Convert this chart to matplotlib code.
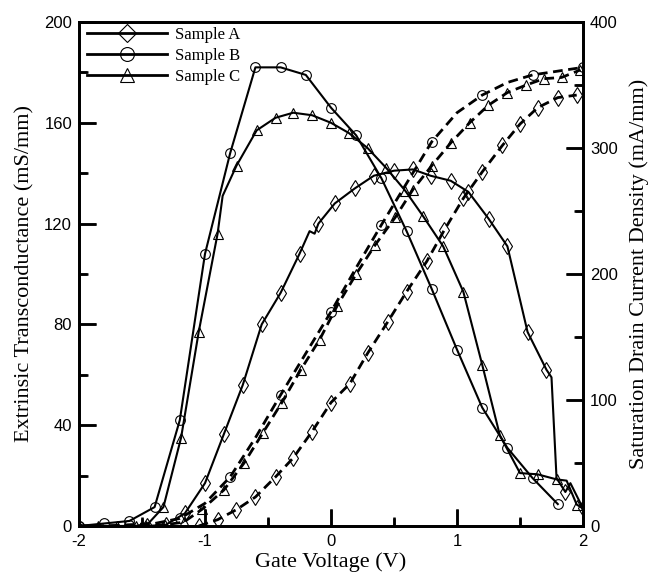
import numpy as np
import matplotlib
matplotlib.use('Agg')
import matplotlib.pyplot as plt
from matplotlib.lines import Line2D
from matplotlib.ticker import MultipleLocator

plt.rcParams['axes.unicode_minus'] = False

# Transconductance (mS/mm), eje izquierdo
vg_gm_a = [-2.0, -1.46, -1.31, -1.16, -1.0, -0.85, -0.7, -0.55, -0.4, -0.25, -0.17, -0.13, -0.1,
           0.03, 0.19, 0.34, 0.5, 0.65, 0.79, 0.95, 1.09, 1.25, 1.4, 1.56, 1.71, 1.75, 1.79, 1.86, 1.9, 2.0]
gm_a = [0, 0, 0.5, 5, 17, 36.5, 56, 80, 92.5, 108, 117, 116, 120,
        128, 134, 139, 141, 141.5, 139, 137, 132.6, 122, 111, 77, 62, 59, 19, 13.5, 17, 7]
mk_gm_a = [1, 2, 3, 4, 5, 6, 7, 8, 9, 12, 13, 14, 15, 16, 17, 18, 19, 20, 21, 22, 23, 24, 27, 29]

vg_gm_b = [-2.0, -1.8, -1.6, -1.4, -1.2, -1.0, -0.8, -0.6, -0.4, -0.2, 0.0,
           0.2, 0.4, 0.6, 0.8, 1.0, 1.2, 1.4, 1.6, 1.8]
gm_b = [0, 1, 2, 7.5, 42, 108, 148, 182, 182, 179, 166,
        155, 138, 117, 94, 70, 47, 31, 19, 8.7]

vg_gm_c = [-2.0, -1.85, -1.7, -1.55, -1.45, -1.33, -1.19, -1.05, -0.9, -0.86, -0.75, -0.59, -0.44,
           -0.3, -0.15, 0.0, 0.14, 0.29, 0.44, 0.59, 0.73, 0.89, 1.05, 1.2, 1.34, 1.5, 1.64,
           1.79, 1.87, 1.95, 2.0]
gm_c = [0, 0, 0, 0, 1, 7.5, 35, 77, 116, 131, 143, 157, 162,
        164, 163, 160, 156, 150, 142, 133, 123, 111, 93, 64, 36, 21, 20.5,
        18.5, 18, 8.5, 7]
mk_gm_c = [0, 1, 2, 3, 5, 6, 7, 8, 10, 11, 12, 13, 14, 15, 16, 17, 18, 19, 20, 21, 22, 23,
           24, 25, 26, 27, 29]

# Saturation drain current density (mA/mm), eje derecho
vg_id_a = [-1.05, -0.9, -0.75, -0.6, -0.44, -0.3, -0.15, 0.0, 0.15, 0.29, 0.45,
           0.6, 0.76, 0.9, 1.05, 1.2, 1.36, 1.5, 1.64, 1.8, 1.95]
id_a = [0, 5, 13, 23, 39, 54, 75, 98, 113, 137, 162,
        186, 210, 235, 260, 281, 302, 319, 332, 340, 342]

vg_id_b = [-2.0, -1.8, -1.6, -1.4, -1.2, -1.0, -0.8, -0.6, -0.4, -0.2, 0.0,
           0.2, 0.4, 0.6, 0.8, 1.0, 1.2, 1.4, 1.6, 1.8, 2.0]
id_b = [0, 0, 1, 2, 6, 18, 39, 70, 104, 137, 170,
        205, 239, 272, 305, 328, 342, 352, 358, 361, 364]

vg_id_c = [-2.0, -1.47, -1.32, -1.17, -1.02, -0.85, -0.69, -0.54, -0.39, -0.24, -0.09,
           0.05, 0.2, 0.35, 0.51, 0.65, 0.8, 0.95, 1.1, 1.25, 1.4, 1.55, 1.69, 1.83, 1.98]
id_c = [0, 0, 1, 3, 13.5, 28.6, 50, 74, 98, 124, 148,
        175, 200, 223, 245, 267, 286, 304, 320, 334, 344, 350, 355, 356, 362]

serif = ['Liberation Serif', 'DejaVu Serif']
sans = ['Liberation Sans', 'DejaVu Sans']

fig = plt.figure(figsize=(6.48, 5.78), dpi=100)
ax = fig.add_axes([79 / 648, 52 / 578, 504 / 648, 504 / 578])
ax2 = ax.twinx()

lw = 1.5
mkw = dict(markerfacecolor='none', markeredgecolor='black', markeredgewidth=0.8)
dash = (3.5, 2.0)

ax.plot(vg_gm_a, gm_a, '-', color='black', lw=lw, marker='d', ms=8, markevery=mk_gm_a, **mkw)
ax.plot(vg_gm_b, gm_b, '-', color='black', lw=lw, marker='o', ms=7, **mkw)
ax.plot(vg_gm_c, gm_c, '-', color='black', lw=lw, marker='^', ms=7, markevery=mk_gm_c, **mkw)

ax2.plot(vg_id_a, id_a, color='black', lw=2, dashes=dash, marker='d', ms=8, **mkw)
ax2.plot(vg_id_b, id_b, color='black', lw=2, dashes=dash, marker='o', ms=7, markevery=2, **mkw)
ax2.plot(vg_id_c, id_c, color='black', lw=2, dashes=dash, marker='^', ms=7, **mkw)

ax.set_xlim(-2, 2)
ax.set_ylim(0, 200)
ax2.set_ylim(0, 400)

ax.xaxis.set_major_locator(MultipleLocator(1))
ax.xaxis.set_minor_locator(MultipleLocator(0.5))
ax.yaxis.set_major_locator(MultipleLocator(40))
ax.yaxis.set_minor_locator(MultipleLocator(20))
ax2.yaxis.set_major_locator(MultipleLocator(100))
ax2.yaxis.set_minor_locator(MultipleLocator(50))

for a in (ax, ax2):
    for s in a.spines.values():
        s.set_linewidth(2)
ax.tick_params(axis='both', which='major', direction='in', length=12, width=1.8,
               labelsize=12, pad=5, bottom=True, left=True, top=False, right=False, color='black')
ax.tick_params(axis='both', which='minor', direction='in', length=6, width=1.8,
               bottom=True, left=True, top=False, right=False, color='black')
ax.tick_params(axis='x', pad=6)
ax2.tick_params(axis='y', which='major', direction='in', length=12, width=1.8,
                labelsize=12, pad=5, left=False, right=True, color='black')
ax2.tick_params(axis='y', which='minor', direction='in', length=6, width=1.8,
                left=False, right=True, color='black')

# marcas hacia dentro también trazadas a mano, solo dentro de los límites de los ejes
maj, mnr = 0.034, 0.017
tk = dict(color='black', lw=1.8, solid_capstyle='butt', zorder=5)


def dentro(locs, lim):
    return [v for v in locs if lim[0] - 1e-9 <= v <= lim[1] + 1e-9]


xt = ax.get_xaxis_transform()
for x in dentro(ax.xaxis.get_majorticklocs(), ax.get_xlim()):
    ax.plot([x, x], [0, maj], transform=xt, **tk)
for x in dentro(ax.xaxis.get_minorticklocs(), ax.get_xlim()):
    ax.plot([x, x], [0, mnr], transform=xt, **tk)
yt = ax.get_yaxis_transform()
for y in dentro(ax.yaxis.get_majorticklocs(), ax.get_ylim()):
    ax.plot([0, maj], [y, y], transform=yt, **tk)
for y in dentro(ax.yaxis.get_minorticklocs(), ax.get_ylim()):
    ax.plot([0, mnr], [y, y], transform=yt, **tk)
yt2 = ax2.get_yaxis_transform()
for y in dentro(ax2.yaxis.get_majorticklocs(), ax2.get_ylim()):
    ax2.plot([1 - maj, 1], [y, y], transform=yt2, **tk)
for y in dentro(ax2.yaxis.get_minorticklocs(), ax2.get_ylim()):
    ax2.plot([1 - mnr, 1], [y, y], transform=yt2, **tk)

ax.set_xlim(-2, 2)
ax.set_ylim(0, 200)
ax2.set_ylim(0, 400)

for lab in ax.get_xticklabels() + ax.get_yticklabels() + ax2.get_yticklabels():
    lab.set_family(sans)

ax.set_xlabel('Gate Voltage (V)', family=serif, fontsize=16, labelpad=2)
ax.set_ylabel('Extrinsic Transconductance (mS/mm)', family=serif, fontsize=16, labelpad=7)
ax2.set_ylabel('Saturation Drain Current Density (mA/mm)', family=serif, fontsize=16, labelpad=8)

handles = [
    Line2D([], [], color='black', lw=2, marker='D', ms=9, **mkw),
    Line2D([], [], color='black', lw=2, marker='o', ms=10, **mkw),
    Line2D([], [], color='black', lw=2, marker='^', ms=10, **mkw),
]
leg = ax2.legend(handles, ['Sample A', 'Sample B', 'Sample C'], loc='upper left',
                 bbox_to_anchor=(0.016, 0.99), frameon=False, borderpad=0, borderaxespad=0,
                 handlelength=4.8, handletextpad=0.5, labelspacing=0.3,
                 prop={'family': serif, 'size': 12})

fig.savefig('out.png', dpi=100)
